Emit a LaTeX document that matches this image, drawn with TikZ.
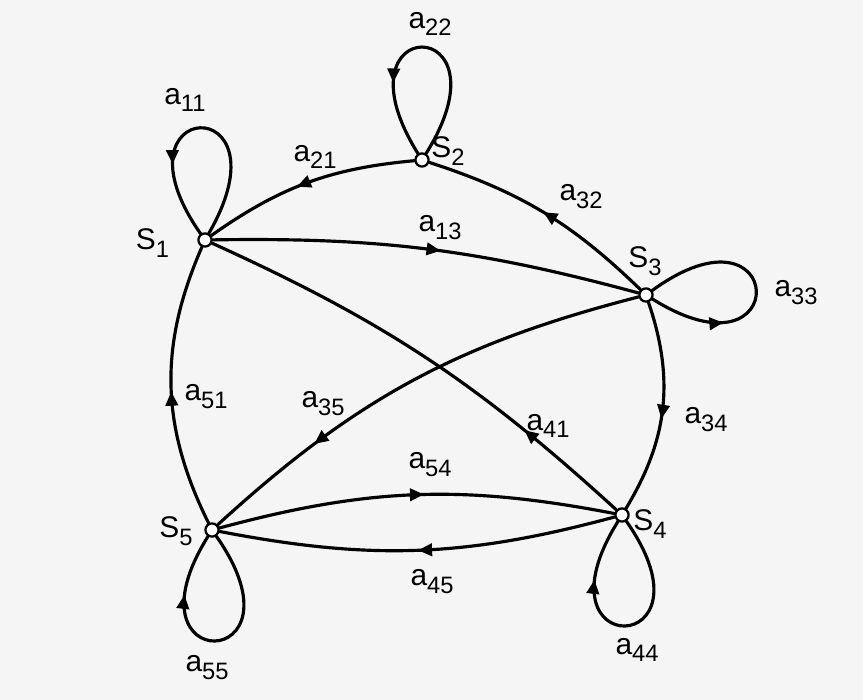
\documentclass[tikz,border=0pt]{standalone}
\usepackage{fontspec}
\setmainfont{Liberation Sans}
\usepackage{tikz}
\usetikzlibrary{arrows.meta,decorations.markings}

% label with a lowered index
\newcommand{\lab}[2]{#1\raisebox{-0.5ex}{\fontsize{13.5}{13.5}\selectfont #2}}

\begin{document}
\begin{tikzpicture}[line cap=round, line join=round,
  edge/.style={line width=1.8pt},
  arr/.style={postaction={decorate},decoration={markings,
    mark=at position #1 with {\arrow{Triangle[length=8pt,width=7pt]}}}},
  arr/.default=0.5,
  state/.style={circle,draw,fill=white,line width=1.3pt,inner sep=0pt,minimum size=7.5pt},
  txt/.style={font=\fontsize{17}{17}\selectfont}]

% --- frame ---
\fill[black!4] (0,0) rectangle (17.26,14);
\useasboundingbox (0,0) rectangle (17.26,14);

% --- the five states ---
\node[state] (s1) at (4.10,9.20) {};
\node[state] (s2) at (8.44,10.80) {};
\node[state] (s3) at (12.92,8.10) {};
\node[state] (s4) at (12.44,3.70) {};
\node[state] (s5) at (4.24,3.40) {};

% --- transitions between states ---
\draw[edge,arr=0.55] (s2) to[bend right=15] (s1);
\draw[edge,arr=0.5]  (s3) to[bend right=13] (s2);
\draw[edge,arr=0.53] (s1) to[bend left=8] (s3);
\draw[edge,arr=0.74] (s3) to[bend right=14] (s5);
\draw[edge,arr=0.25] (s4) to[bend right=9] (s1);
\draw[edge,arr=0.55] (s3) to[bend left=25] (s4);
\draw[edge,arr=0.48] (s5) to[bend left=25] (s1);
\draw[edge,arr=0.52] (s5) to[bend left=13] (s4);
\draw[edge,arr=0.5]  (s4) to[bend left=13] (s5);

% --- self loops ---
\draw[edge,arr=0.7]  (s1) .. controls +(60:3.5) and +(125:3.5) .. (s1);
\draw[edge,arr=0.7]  (s2) .. controls +(58:3.5) and +(122:3.5) .. (s2);
\draw[edge,arr=0.3]  (s3) .. controls +(-32:3.5) and +(36:3.5) .. (s3);
\draw[edge,arr=0.75] (s4) .. controls +(-55:3.5) and +(-122:3.5) .. (s4);
\draw[edge,arr=0.75] (s5) .. controls +(-55:3.5) and +(-122:3.5) .. (s5);

% --- state names ---
\node[txt] (t1) at (3.05,9.14) {\lab{S}{1}};
\node[txt] (t2) at (8.96,10.98) {\lab{S}{2}};
\node[txt] (t3) at (12.90,8.78) {\lab{S}{3}};
\node[txt] (t4) at (13.00,3.52) {\lab{S}{4}};
\node[txt] (t5) at (3.52,3.38) {\lab{S}{5}};

% --- weights ---
\node[txt] (w11) at (3.70,12.00) {\lab{a}{11}};
\node[txt] (w22) at (8.60,13.52) {\lab{a}{22}};
\node[txt] (w21) at (6.30,10.86) {\lab{a}{21}};
\node[txt] (w32) at (11.62,10.06) {\lab{a}{32}};
\node[txt] (w13) at (8.80,9.44) {\lab{a}{13}};
\node[txt] (w33) at (15.92,8.14) {\lab{a}{33}};
\node[txt] (w51) at (4.12,6.06) {\lab{a}{51}};
\node[txt] (w35) at (6.46,5.92) {\lab{a}{35}};
\node[txt] (w41) at (10.96,5.48) {\lab{a}{41}};
\node[txt] (w34) at (14.12,5.60) {\lab{a}{34}};
\node[txt] (w54) at (8.60,4.70) {\lab{a}{54}};
\node[txt] (w45) at (8.64,2.36) {\lab{a}{45}};
\node[txt] (w44) at (12.74,1.00) {\lab{a}{44}};
\node[txt] (w55) at (4.14,0.64) {\lab{a}{55}};

\end{tikzpicture}
\end{document}
